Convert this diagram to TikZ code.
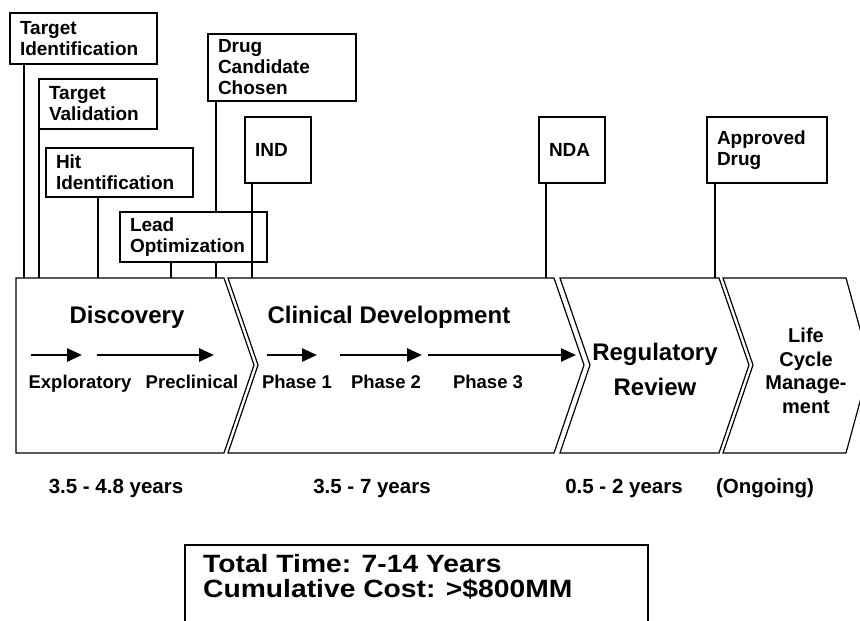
\documentclass[tikz,border=0pt]{standalone}
\usepackage{fontspec}
\setmainfont{Liberation Sans}
\newfontfamily\widefont[FakeStretch=1.13]{Liberation Sans}
\usepackage{tikz}
\usetikzlibrary{arrows.meta,positioning,calc}

\begin{document}
\begin{tikzpicture}[x=1pt,y=-1pt,>=Latex,
  mbox/.style={draw,line width=1.3pt,fill=white,anchor=north west,align=left,inner xsep=10pt,inner ysep=0pt,outer sep=0pt,font=\fontsize{19}{21}\selectfont\bfseries},
  chev/.style={draw,line width=1.2pt,line join=miter},
  link/.style={line width=1.1pt},
  stage/.style={align=center,font=\fontsize{24}{35}\selectfont\bfseries},
  sub/.style={anchor=base,font=\fontsize{18.5}{21}\selectfont\bfseries},
  dur/.style={anchor=base,font=\fontsize{20.5}{24}\selectfont\bfseries},
  phase/.style={line width=2.8pt,-{Triangle[length=15pt,width=13pt]}}]
\useasboundingbox (0,0) rectangle (860,621);

% milestone boxes
\node[mbox,text width=127pt,minimum height=51pt] (tid) at (10,13) {Target\\Identification};
\node[mbox,text width=98pt,minimum height=50pt] (tval) at (39,79) {Target\\Validation};
\node[mbox,text width=127pt,minimum height=49pt] (hit) at (46,148) {Hit\\Identification};
\node[mbox,text width=128pt,minimum height=67pt] (drug) at (208,34) {Drug\\Candidate\\Chosen};
\node[mbox,text width=46pt,minimum height=66pt] (ind) at (245,117) {IND};
\node[mbox,text width=46pt,minimum height=66pt] (nda) at (539,117) {NDA};
\node[mbox,text width=100pt,minimum height=66pt] (appr) at (707,117) {Approved\\Drug};
\coordinate (top) at (0,278);

\draw[link] ([xshift=14pt]tid.south west) -- ([xshift=14pt]tid.south west |- top);
\draw[link] (tval.south west) -- (tval.south west |- top);
\draw[link] ([xshift=52pt]hit.south west) -- ([xshift=52pt]hit.south west |- top);
\draw[link] ([xshift=8pt]drug.south west) -- ([xshift=8pt]drug.south west |- top);
\node[mbox,text width=127pt,minimum height=50pt] (lead) at (120,212) {Lead\\Optimization};
\draw[link] ([xshift=51pt]lead.south west) -- ([xshift=51pt]lead.south west |- top);
\draw[link] ([xshift=7pt]ind.south west) -- ([xshift=7pt]ind.south west |- top);
\draw[link] ([xshift=7pt]nda.south west) -- ([xshift=7pt]nda.south west |- top);
\draw[link] ([xshift=8pt]appr.south west) -- ([xshift=8pt]appr.south west |- top);

% stage chevrons
\draw[chev] (16,278) -- (224,278) -- (254,365) -- (224,453) -- (16,453) -- cycle;
\draw[chev] (228,278) -- (554,278) -- (584,365) -- (554,453) -- (228,453) -- (258,365) -- cycle;
\draw[chev] (560,278) -- (719,278) -- (749,365) -- (719,453) -- (560,453) -- (590,365) -- cycle;
\draw[chev] (723,278) -- (846,278) -- (870,365) -- (846,453) -- (723,453) -- (753,365) -- cycle;

\node[stage] (disc) at (127,317) {Discovery};
\node[stage,anchor=west] (clin) at (264,317) {Clinical Development};
\node[stage] (reg) at (655,369) {Regulatory\\Review};
\node[align=center,font=\fontsize{20}{23.5}\selectfont\bfseries] (lcm) at (806,371) {Life\\Cycle\\Manage-\\ment};

% phase arrows
\coordinate (exs) at (31,355);  \coordinate (exe) at (82,355);
\coordinate (pcs) at (97,355);  \coordinate (pce) at (214,355);
\coordinate (p1s) at (267,355); \coordinate (p1e) at (317,355);
\coordinate (p2s) at (340,355); \coordinate (p2e) at (422,355);
\coordinate (p3s) at (428,355); \coordinate (p3e) at (576,355);
\draw[phase] (exs) -- (exe);
\draw[phase] (pcs) -- (pce);
\draw[phase] (p1s) -- (p1e);
\draw[phase] (p2s) -- (p2e);
\draw[phase,line width=2.2pt] (p3s) -- (p3e);

\node[sub] (expl) at (80,388) {Exploratory};
\node[sub] (precl) at (192,388) {Preclinical};
\node[sub] (ph1) at (297,388) {Phase 1};
\node[sub] (ph2) at (386,388) {Phase 2};
\node[sub] (ph3) at (488,388) {Phase 3};

% durations
\node[dur] (t1) at (116,493) {3.5 - 4.8 years};
\node[dur] (t2) at (372,493) {3.5 - 7 years};
\node[dur] (t3) at (624,493) {0.5 - 2 years};
\node[dur] (t4) at (765,493) {(Ongoing)};

% totals
\node[draw,line width=1.3pt,anchor=north west,minimum width=463pt,minimum height=100pt,outer sep=0pt] (totbox) at (185,545) {};
\node[anchor=north west,align=left,inner sep=0pt,font=\widefont\fontsize{25}{25}\selectfont\bfseries] (total) at ([xshift=18pt,yshift=-9pt]totbox.north west) {Total Time: 7-14 Years\\Cumulative Cost: >\$800MM};
\end{tikzpicture}
\end{document}
